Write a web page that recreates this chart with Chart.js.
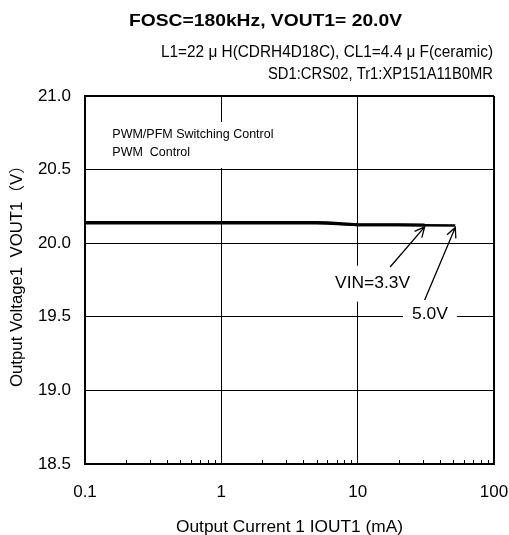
<!DOCTYPE html>
<html>
<head>
<meta charset="utf-8">
<script src="https://cdn.jsdelivr.net/npm/chart.js@4.4.0/dist/chart.umd.min.js"></script>
<style>
html,body{margin:0;padding:0;background:#fff;}
#wrap{width:509px;height:535px;position:relative;}
canvas{display:block;}
</style>
</head>
<body>
<div id="wrap"><canvas id="c" width="509" height="535"></canvas></div>
<script>
// ---- chart texts ----
const titleText = 'FOSC=180kHz, VOUT1= 20.0V';
const subtitleLines = ['L1=22 μ H(CDRH4D18C), CL1=4.4 μ F(ceramic)', 'SD1:CRS02, Tr1:XP151A11B0MR'];
const noteLines = ['PWM/PFM Switching Control', 'PWM  Control'];
const xTitle = 'Output Current 1 IOUT1 (mA)';
const yTitle = 'Output Voltage1  VOUT1（V）';

// ---- axes ----
const xTicks = [0.1, 1, 10, 100];
const xTickLabels = ['0.1', '1', '10', '100'];
const yTicks = [18.5, 19.0, 19.5, 20.0, 20.5, 21.0];
const yTickLabels = ['18.5', '19.0', '19.5', '20.0', '20.5', '21.0'];

// ---- series ----
const seriesNames = ['VIN=3.3V', '5.0V'];
const current33 = [0.1, 0.2, 0.5, 1, 2, 5, 6, 10, 20, 31];
const vout33    = [20.140, 20.140, 20.140, 20.140, 20.140, 20.140, 20.139, 20.126, 20.125, 20.124];
const current50 = [0.1, 0.2, 0.5, 1, 2, 5, 6, 10, 20, 30, 52];
const vout50    = [20.135, 20.135, 20.135, 20.135, 20.135, 20.135, 20.134, 20.124, 20.123, 20.122, 20.121];

// ---- callout anchors (data coords) ----
const calloutLabelX = [12.85, 33.9];
const calloutLabelY = [19.725, 19.515];
const calloutTailX  = [17.3, 31.0];
const calloutTailY  = [19.838, 19.614];

const FONT = '"Liberation Sans", Arial, "Noto Sans CJK JP", sans-serif';

function drawFitted(ctx, text, font, x, y, align, targetW, rot) {
  ctx.save();
  ctx.font = font;
  const w = ctx.measureText(text).width;
  const s = targetW ? targetW / w : 1;
  ctx.translate(x, y);
  if (rot) ctx.rotate(rot);
  ctx.scale(s, 1);
  ctx.textAlign = align;
  ctx.textBaseline = 'middle';
  ctx.fillStyle = '#000';
  ctx.fillText(text, 0, 0);
  ctx.restore();
}

function arrow(ctx, x1, y1, x2, y2) {
  const a = Math.atan2(y2 - y1, x2 - x1);
  const L = 11, h = 0.45;
  ctx.beginPath();
  ctx.moveTo(x1, y1);
  ctx.lineTo(x2, y2);
  ctx.moveTo(x2 - L * Math.cos(a - h), y2 - L * Math.sin(a - h));
  ctx.lineTo(x2, y2);
  ctx.lineTo(x2 - L * Math.cos(a + h), y2 - L * Math.sin(a + h));
  ctx.stroke();
}

const decor = {
  id: 'decor',
  beforeDatasetsDraw(chart) {
    const ctx = chart.ctx, xs = chart.scales.x, area = chart.chartArea;
    ctx.save();
    ctx.strokeStyle = '#000';
    ctx.lineWidth = 1;
    ctx.beginPath();
    for (let d = 0; d < xTicks.length - 1; d++) {
      for (let k = 2; k <= 9; k++) {
        const px = Math.round(xs.getPixelForValue(xTicks[d] * k)) + 0.5;
        ctx.moveTo(px, area.bottom);
        ctx.lineTo(px, area.bottom - 4);
      }
    }
    ctx.stroke();
    ctx.restore();
  },
  afterDraw(chart) {
    const ctx = chart.ctx, xs = chart.scales.x, ys = chart.scales.y, area = chart.chartArea;
    ctx.save();
    drawFitted(ctx, titleText, 'bold 17px ' + FONT, 265.5, 21.5, 'center', 273);
    drawFitted(ctx, subtitleLines[0], '16px ' + FONT, 493, 53, 'right', 332);
    drawFitted(ctx, subtitleLines[1], '16px ' + FONT, 493, 75, 'right', 225);
    drawFitted(ctx, xTitle, '16px ' + FONT, (area.left + area.right) / 2, 527.5, 'center', 227);
    drawFitted(ctx, yTitle, '16px ' + FONT, 18, 272, 'center', 230, -Math.PI / 2);

    ctx.fillStyle = '#fff';
    ctx.fillRect(100, 122, 190, 46);
    drawFitted(ctx, noteLines[0], '12.5px ' + FONT, 112.3, 135, 'left', 0);
    drawFitted(ctx, noteLines[1], '12.5px ' + FONT, 112.3, 153, 'left', 0);

    const boxPad = [[9, 18], [9, 12]];
    const labelW = [75, 36];
    const lastPts = [
      [current33[current33.length - 1], vout33[vout33.length - 1]],
      [current50[current50.length - 1], vout50[vout50.length - 1]]
    ];
    for (let i = 0; i < seriesNames.length; i++) {
      const cx = xs.getPixelForValue(calloutLabelX[i]);
      const cy = ys.getPixelForValue(calloutLabelY[i]);
      const w = labelW[i];
      ctx.fillStyle = '#fff';
      ctx.fillRect(cx - w / 2 - boxPad[i][0], cy - boxPad[i][1], w + 2 * boxPad[i][0], 2 * boxPad[i][1]);
      drawFitted(ctx, seriesNames[i], '16px ' + FONT, cx, cy, 'center', w);
    }
    ctx.strokeStyle = '#000';
    ctx.lineWidth = 1.3;
    for (let i = 0; i < seriesNames.length; i++) {
      const tx = xs.getPixelForValue(calloutTailX[i]);
      const ty = ys.getPixelForValue(calloutTailY[i]);
      const hx = xs.getPixelForValue(lastPts[i][0]);
      const hy = ys.getPixelForValue(lastPts[i][1]) + 2;
      arrow(ctx, tx, ty, hx, hy);
    }
    ctx.restore();
  }
};

const edgeWidth = (ctx, n) => (ctx.index === 0 || ctx.index === n - 1) ? 2 : 1;
const zeroPad = s => { s.paddingLeft = 0; s.paddingRight = 0; s.paddingTop = 0; s.paddingBottom = 0; };

new Chart(document.getElementById('c').getContext('2d'), {
  type: 'line',
  data: {
    datasets: [
      {
        label: seriesNames[0],
        data: current33.map((x, i) => ({ x: x, y: vout33[i] })),
        borderColor: '#000', backgroundColor: '#000',
        borderWidth: 3, pointRadius: 0, tension: 0, fill: false
      },
      {
        label: seriesNames[1],
        data: current50.map((x, i) => ({ x: x, y: vout50[i] })),
        borderColor: '#000', backgroundColor: '#000',
        borderWidth: 2.5, pointRadius: 0, tension: 0, fill: false
      }
    ]
  },
  options: {
    responsive: false,
    animation: false,
    devicePixelRatio: 1,
    layout: { padding: { left: 0, top: 96, right: 15, bottom: 0 } },
    plugins: { legend: { display: false }, tooltip: { enabled: false }, title: { display: false } },
    scales: {
      x: {
        type: 'logarithmic', min: 0.1, max: 100,
        afterBuildTicks: s => { s.ticks = xTicks.map(v => ({ value: v })); },
        afterFit: s => { s.height = 71; zeroPad(s); },
        ticks: {
          autoSkip: false, maxRotation: 0, padding: 18, color: '#000',
          font: { family: FONT, size: 17 },
          callback: (v, i) => xTickLabels[i]
        },
        grid: { color: '#000', lineWidth: c => edgeWidth(c, xTicks.length), drawTicks: false },
        border: { display: true, color: '#000', width: 2 }
      },
      y: {
        type: 'linear', min: 18.5, max: 21.0,
        afterBuildTicks: s => { s.ticks = yTicks.map(v => ({ value: v })); },
        afterFit: s => { s.width = 85; zeroPad(s); },
        ticks: {
          padding: 14, color: '#000',
          font: { family: FONT, size: 17 },
          callback: (v, i) => yTickLabels[i]
        },
        grid: { color: '#000', lineWidth: c => edgeWidth(c, yTicks.length), drawTicks: false },
        border: { display: true, color: '#000', width: 2 }
      }
    }
  },
  plugins: [decor]
});
</script>
</body>
</html>
